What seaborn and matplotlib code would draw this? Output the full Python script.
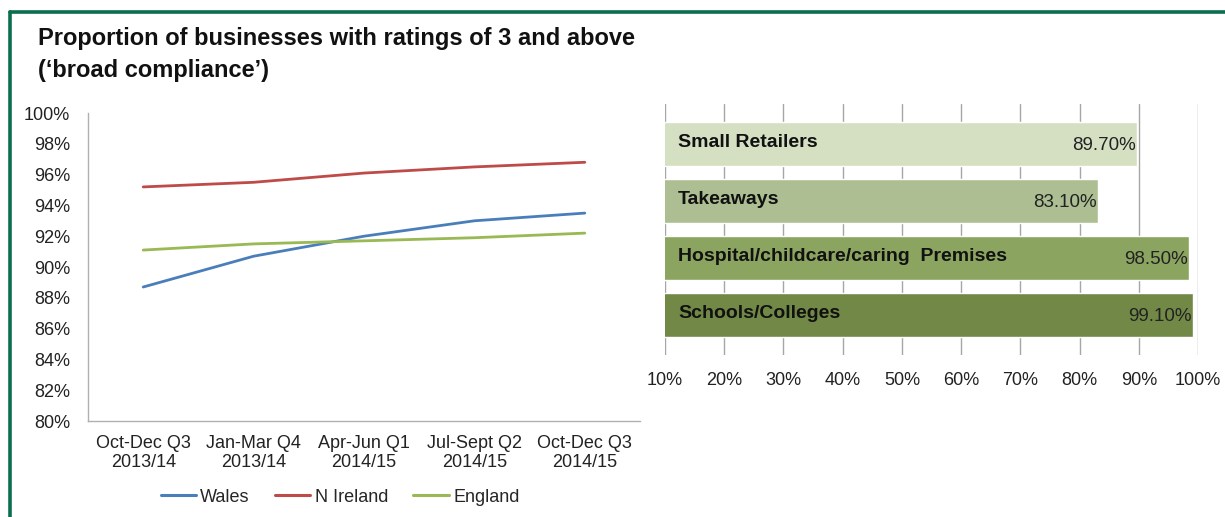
import matplotlib
matplotlib.use("Agg")
import matplotlib.pyplot as plt
from matplotlib.lines import Line2D
import seaborn as sns
import pandas as pd

sns.set_theme(style="white")
plt.rcParams["font.family"] = ["Liberation Sans", "DejaVu Sans"]

# Quarterly share of businesses rated 3 or above
quarters = ["Oct-Dec Q3\n2013/14", "Jan-Mar Q4\n2013/14", "Apr-Jun Q1\n2014/15",
            "Jul-Sept Q2\n2014/15", "Oct-Dec Q3\n2014/15"]
wales = [88.7, 90.7, 92.0, 93.0, 93.5]
n_ireland = [95.2, 95.5, 96.1, 96.5, 96.8]
england = [91.1, 91.5, 91.7, 91.9, 92.2]
nations = ["Wales", "N Ireland", "England"]
line_colors = ["#4a7ebb", "#be4b48", "#98b954"]

# Business types
business_types = ["Small Retailers", "Takeaways", "Hospital/childcare/caring  Premises",
                  "Schools/Colleges"]
business_values = [89.7, 83.1, 98.5, 99.1]
bar_colors = ["#d7e4bd", "#afc78a", "#8eb054", "#76933c"]

W, H = 1225, 517
fig = plt.figure(figsize=(W / 100, H / 100), dpi=100)
fig.patch.set_facecolor("white")


def px_axes(left, top, right, bottom):
    return fig.add_axes([left / W, 1 - bottom / H, (right - left) / W, (bottom - top) / H])


# Frame
border = "#0b6e4f"
fig.add_artist(Line2D([10 / W, 1], [1 - 12 / H, 1 - 12 / H], color=border, lw=2.6,
                      transform=fig.transFigure))
fig.add_artist(Line2D([10 / W, 10 / W], [0, 1 - 12 / H], color=border, lw=2.6,
                      transform=fig.transFigure))

fig.text(38 / W, 1 - 39 / H, "Proportion of businesses with ratings of 3 and above",
         fontsize=17, fontweight="bold", va="center", ha="left", color="#111111")
fig.text(38 / W, 1 - 70 / H, "(\u2018broad compliance\u2019)",
         fontsize=17, fontweight="bold", va="center", ha="left", color="#111111")

TICK_FS = 13

# ---- Line chart ----
long = pd.DataFrame({
    "quarter": quarters * 3,
    "nation": [n for n in nations for _ in quarters],
    "value": wales + n_ireland + england,
})
ax1 = px_axes(88, 113, 640, 421)
sns.lineplot(data=long, x="quarter", y="value", hue="nation", hue_order=nations,
             palette=line_colors, linewidth=2.0, sort=False, ax=ax1, legend=False)
ax1.set_xlim(-0.5, 4.5)
ax1.set_ylim(80, 100)
ax1.set_yticks(range(80, 101, 2))
ax1.set_yticklabels([f"{v}%" for v in range(80, 101, 2)])
ax1.set_xlabel("")
ax1.set_ylabel("")
for s in ["top", "right"]:
    ax1.spines[s].set_visible(False)
for s in ["left", "bottom"]:
    ax1.spines[s].set_color("#b0b0b0")
    ax1.spines[s].set_linewidth(1.0)
ax1.tick_params(axis="both", length=0, labelsize=TICK_FS, colors="#222222")
ax1.tick_params(axis="y", pad=13)
ax1.tick_params(axis="x", pad=10)
ax1.grid(False)

handles = [Line2D([0], [0], color=c, lw=2.2) for c in line_colors]
fig.legend(handles, nations, loc="center", bbox_to_anchor=(340 / W, 1 - 497 / H),
           ncol=3, frameon=False, fontsize=TICK_FS, handlelength=1.95, handletextpad=0.25,
           columnspacing=1.4)

# ---- Bar chart ----
bars = pd.DataFrame({"type": business_types, "value": business_values})
ax2 = px_axes(665, 104, 1198, 355)
ax2.set_axisbelow(True)
ax2.xaxis.grid(True, color="#a6a6a6", linewidth=1.0)
sns.barplot(data=bars, y="type", x="value", hue="type", palette=bar_colors,
            order=business_types, orient="h", width=0.78, legend=False, ax=ax2)
ax2.set_xlim(10, 100)
ax2.set_ylim(3.7, -0.7)
ax2.set_xticks(range(10, 101, 10))
ax2.set_xticklabels([f"{v}%" for v in range(10, 101, 10)])
ax2.set_yticks([])
ax2.set_xlabel("")
ax2.set_ylabel("")
for s in ax2.spines.values():
    s.set_visible(False)
ax2.tick_params(axis="x", length=0, labelsize=TICK_FS, colors="#222222", pad=12)

for i, (name, val) in enumerate(zip(business_types, business_values)):
    ax2.text(12.2, i - 0.02, name, fontsize=14, fontweight="bold", va="center",
             ha="left", color="#111111")
    ax2.text(val - 0.2, i + 0.02, f"{val:.2f}%", fontsize=13.5, va="center",
             ha="right", color="#222222")

fig.savefig("out.png", dpi=100, facecolor="white")
